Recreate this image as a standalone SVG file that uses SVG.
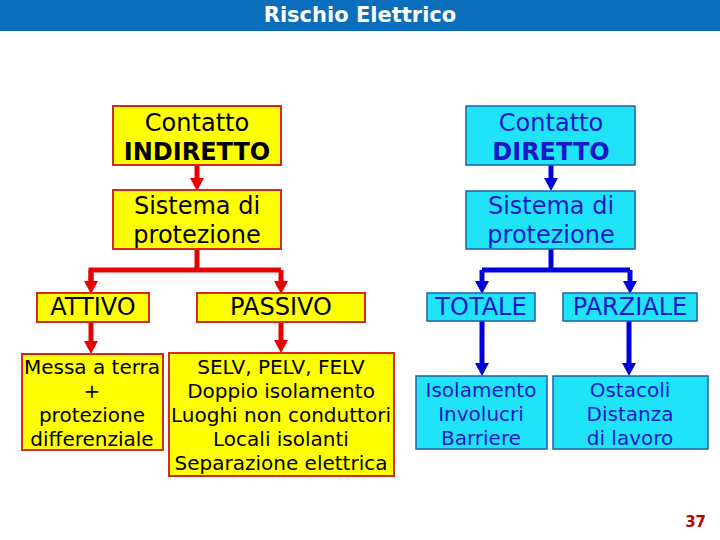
<svg xmlns="http://www.w3.org/2000/svg" width="720" height="540" viewBox="0 0 720 540">
<style>
.y{fill:#FFFF00;stroke:#D42A1E;stroke-width:2}
.c{fill:#1FE4F8;stroke:#1F5FA8;stroke-width:1.5}
.t{font-family:"DejaVu Sans",Verdana,sans-serif;text-anchor:middle}
.l{font-size:24px}
.s{font-size:20px}
.k{fill:#000}
.b{fill:#1818C8}
.r{fill:none;stroke:#E80000;stroke-width:5}
.u{fill:none;stroke:#0000DD;stroke-width:5}
</style>
<defs>
<marker id="hr" markerUnits="userSpaceOnUse" markerWidth="14" markerHeight="14" refX="0" refY="7" orient="auto"><path d="M0,0 L13,7 L0,14 z" fill="#E80000"/></marker>
<marker id="hb" markerUnits="userSpaceOnUse" markerWidth="14" markerHeight="14" refX="0" refY="7" orient="auto"><path d="M0,0 L13,7 L0,14 z" fill="#0000DD"/></marker>
</defs>
<rect width="720" height="540" fill="#fff"/>
<g id="header">
<rect x="0" y="0" width="720" height="31" fill="#0A6EBD"/>
<text x="360" y="22" class="t" font-size="21" font-weight="bold" fill="#fff">Rischio Elettrico</text>
</g>
<g id="connectors">
<path class="r" d="M197,165 V178" marker-end="url(#hr)"/>
<path class="r" d="M197,249 V270"/>
<path class="r" d="M91,281 V270 H281"/>
<path class="r" d="M281,270 V281" marker-end="url(#hr)"/>
<path class="r" d="M91,270 V281" marker-end="url(#hr)"/>
<path class="r" d="M91,322 V341" marker-end="url(#hr)"/>
<path class="r" d="M281,322 V340" marker-end="url(#hr)"/>
<path class="u" d="M551,165 V178" marker-end="url(#hb)"/>
<path class="u" d="M551,249 V270"/>
<path class="u" d="M482,270 H630"/>
<path class="u" d="M482,270 V281" marker-end="url(#hb)"/>
<path class="u" d="M630,270 V281" marker-end="url(#hb)"/>
<path class="u" d="M482,321 V363" marker-end="url(#hb)"/>
<path class="u" d="M629,321 V363" marker-end="url(#hb)"/>
</g>
<g id="indiretto">
<rect class="y" x="113" y="106" width="168" height="59"/>
<text class="t l k" x="197" y="131">Contatto</text>
<text class="t l k" x="197" y="160" font-weight="bold">INDIRETTO</text>
</g>
<g id="sistema-ind">
<rect class="y" x="113" y="190" width="168" height="59"/>
<text class="t l k" x="197" y="214">Sistema di</text>
<text class="t l k" x="197" y="243">protezione</text>
</g>
<g id="attivo">
<rect class="y" x="37" y="293" width="112" height="29"/>
<text class="t l k" x="93" y="315">ATTIVO</text>
</g>
<g id="passivo">
<rect class="y" x="197" y="293" width="168" height="29"/>
<text class="t l k" x="281" y="315">PASSIVO</text>
</g>
<g id="messa">
<rect class="y" x="22" y="354" width="141" height="96"/>
<text class="t s k" x="92" y="374">Messa a terra</text>
<text class="t s k" x="92" y="398">+</text>
<text class="t s k" x="92" y="422">protezione</text>
<text class="t s k" x="92" y="446">differenziale</text>
</g>
<g id="selv">
<rect class="y" x="169" y="353" width="225" height="123"/>
<text class="t s k" x="281" y="374">SELV, PELV, FELV</text>
<text class="t s k" x="281" y="398">Doppio isolamento</text>
<text class="t s k" x="281" y="422">Luoghi non conduttori</text>
<text class="t s k" x="281" y="446">Locali isolanti</text>
<text class="t s k" x="281" y="470">Separazione elettrica</text>
</g>
<g id="diretto">
<rect class="c" x="466" y="106" width="169" height="59"/>
<text class="t l b" x="551" y="131">Contatto</text>
<text class="t l b" x="551" y="160" font-weight="bold">DIRETTO</text>
</g>
<g id="sistema-dir">
<rect class="c" x="466" y="191" width="169" height="58"/>
<text class="t l b" x="551" y="214">Sistema di</text>
<text class="t l b" x="551" y="243">protezione</text>
</g>
<g id="totale">
<rect class="c" x="427" y="293" width="108" height="28"/>
<text class="t l b" x="481" y="315">TOTALE</text>
</g>
<g id="parziale">
<rect class="c" x="563" y="293" width="134" height="28"/>
<text class="t l b" x="630" y="315">PARZIALE</text>
</g>
<g id="isolamento">
<rect class="c" x="416" y="376" width="131" height="73"/>
<text class="t s b" x="481" y="397">Isolamento</text>
<text class="t s b" x="481" y="421">Involucri</text>
<text class="t s b" x="481" y="445">Barriere</text>
</g>
<g id="ostacoli">
<rect class="c" x="553" y="376" width="155" height="73"/>
<text class="t s b" x="630" y="397">Ostacoli</text>
<text class="t s b" x="630" y="421">Distanza</text>
<text class="t s b" x="630" y="445">di lavoro</text>
</g>
<text x="706" y="527" font-family="DejaVu Sans,Verdana,sans-serif" font-size="15" font-weight="bold" fill="#C00000" text-anchor="end">37</text>
</svg>
